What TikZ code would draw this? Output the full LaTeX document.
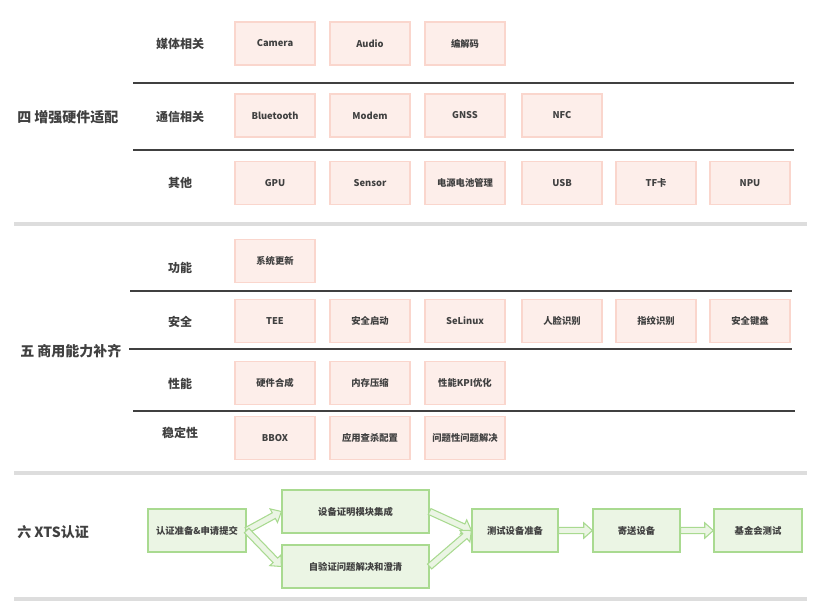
\documentclass[tikz,border=0pt]{standalone}
\usepackage{fontspec}
\setmainfont{Noto Sans CJK SC}
\usetikzlibrary{calc}
\definecolor{pinkfill}{HTML}{FDEEEA}
\definecolor{pinkline}{HTML}{FAD6CD}
\definecolor{greenfill}{HTML}{EBF5E4}
\definecolor{greenline}{HTML}{A9DA90}
\definecolor{txt}{HTML}{404040}
\definecolor{rule}{HTML}{404040}
\definecolor{sep}{HTML}{DDDDDD}
\tikzset{
  pbox/.style={draw=pinkline, fill=pinkfill, line width=1.1pt, minimum width=60pt, minimum height=32.25pt, inner sep=0pt, text=txt, font=\fontsize{7}{8}\selectfont\bfseries},
  gbox/.style={draw=greenline, fill=greenfill, line width=0.9pt, minimum height=32.25pt, inner sep=0pt, text=txt, font=\fontsize{7}{8}\selectfont\bfseries},
  cat/.style={text=txt, font=\fontsize{9}{10}\selectfont\bfseries},
  sect/.style={text=txt, anchor=west, inner sep=0pt, font=\fontsize{10.5}{11}\selectfont\bfseries},
  darkrule/.style={draw=rule, line width=0.9pt},
  graysep/.style={draw=sep, line width=2.4pt},
  fatarrow/.style={draw=greenline, fill=greenfill, line width=0.8pt, line join=miter}
}
\newcommand\fatarr[2]{%
  \coordinate (fa1) at (#1);
  \coordinate (fa2) at (#2);
  \coordinate (fah) at ($(fa2)!6.5pt!(fa1)$);
  \filldraw[fatarrow] ($(fa1)!2.4pt!90:(fa2)$) -- ($(fah)!2.4pt!90:(fa2)$) -- ($(fah)!5.8pt!90:(fa2)$) -- (fa2) -- ($(fah)!5.8pt!-90:(fa2)$) -- ($(fah)!2.4pt!-90:(fa2)$) -- ($(fa1)!2.4pt!-90:(fa2)$) -- cycle;
}
\begin{document}
\begin{tikzpicture}[x=0.75pt, y=-0.75pt]
\useasboundingbox (0,0) rectangle (820,607);
% separators
\draw[graysep] (14,224) -- (807,224);
\draw[graysep] (14,473) -- (807,473);
\draw[graysep] (14,599) -- (807,599);
% section 4
\node[sect] (s4) at (17,117) {四 增强硬件适配};
\node[cat] (c41) at (180,43.5) {媒体相关};
\node[cat] (c42) at (180,117) {通信相关};
\node[cat] (c43) at (180,183) {其他};
\draw[darkrule] (133,83) -- (794,83);
\draw[darkrule] (133,150) -- (794,150);
\node[pbox] (camera) at (275,43.5) {Camera};
\node[pbox] (audio) at (370,43.5) {Audio};
\node[pbox] (codec) at (465,43.5) {编解码};
\node[pbox] (bt) at (275,115.5) {Bluetooth};
\node[pbox] (modem) at (370,115.5) {Modem};
\node[pbox] (gnss) at (465,115.5) {GNSS};
\node[pbox] (nfc) at (562,115.5) {NFC};
\node[pbox] (gpu) at (275,183) {GPU};
\node[pbox] (sensor) at (370,183) {Sensor};
\node[pbox] (power) at (465,183) {电源电池管理};
\node[pbox] (usb) at (562,183) {USB};
\node[pbox] (tf) at (656,183) {TF卡};
\node[pbox] (npu) at (750,183) {NPU};
% section 5
\node[sect] (s5) at (20,351) {五 商用能力补齐};
\node[cat] (c51) at (180,268) {功能};
\node[cat] (c52) at (180,322) {安全};
\node[cat] (c53) at (180,384) {性能};
\node[cat] (c54) at (180,433) {稳定性};
\draw[darkrule] (130,291) -- (792,291);
\draw[darkrule] (129,349) -- (792,349);
\draw[darkrule] (133,411) -- (795,411);
\node[pbox] (upd) at (275,261) {系统更新};
\node[pbox] (tee) at (275,321) {TEE};
\node[pbox] (sboot) at (370,321) {安全启动};
\node[pbox] (selinux) at (465,321) {SeLinux};
\node[pbox] (face) at (562,321) {人脸识别};
\node[pbox] (finger) at (656,321) {指纹识别};
\node[pbox] (kbd) at (750,321) {安全键盘};
\node[pbox] (hwc) at (275,383) {硬件合成};
\node[pbox] (mem) at (370,383) {内存压缩};
\node[pbox] (kpi) at (465,383) {性能KPI优化};
\node[pbox] (bbox) at (275,438) {BBOX};
\node[pbox] (kill) at (370,438) {应用查杀配置};
\node[pbox] (issue) at (465,438) {问题性问题解决};
% section 6
\node[sect] (s6) at (17,532) {六 XTS认证};
\node[gbox, minimum width=73.5pt] (g1) at (197,530.5) {认证准备\&申请提交};
\node[gbox, minimum width=110.25pt] (g2) at (355.5,511.5) {设备证明模块集成};
\node[gbox, minimum width=110.25pt] (g3) at (355.5,566.5) {自验证问题解决和澄清};
\node[gbox, minimum width=64.5pt] (g4) at (515,530.5) {测试设备准备};
\node[gbox, minimum width=65.25pt] (g5) at (636.5,530.5) {寄送设备};
\node[gbox, minimum width=66pt] (g6) at (758,530.5) {基金会测试};
\fatarr{g1.east}{g2.west}
\fatarr{g1.east}{g3.west}
\fatarr{g2.east}{g4.west}
\fatarr{g3.east}{g4.west}
\fatarr{g4.east}{g5.west}
\fatarr{g5.east}{g6.west}
\end{tikzpicture}
\end{document}
